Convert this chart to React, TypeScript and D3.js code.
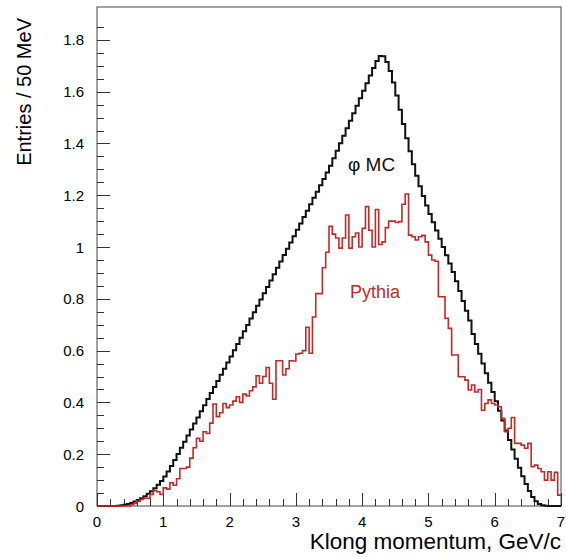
import { useRef, useEffect } from 'react';
import * as d3 from 'd3';

// histogram bins of 50 MeV from 0 to 7 GeV/c
const binWidth = 0.05;

// phi MC (black)
const phiMC = [
  0, 0, 0, 0, 0, 0, 0.001, 0.003, 0.005, 0.008,
  0.012, 0.017, 0.023, 0.030, 0.038, 0.047, 0.057, 0.069, 0.082, 0.097,
  0.114, 0.133, 0.154, 0.178, 0.201, 0.225, 0.248, 0.272, 0.295, 0.319,
  0.342, 0.366, 0.389, 0.413, 0.436, 0.460, 0.483, 0.507, 0.530, 0.554,
  0.577, 0.601, 0.626, 0.650, 0.675, 0.699, 0.724, 0.748, 0.773, 0.797,
  0.822, 0.846, 0.871, 0.895, 0.920, 0.944, 0.969, 0.993, 1.018, 1.042,
  1.067, 1.091, 1.116, 1.140, 1.165, 1.190, 1.214, 1.239, 1.263, 1.288,
  1.314, 1.343, 1.372, 1.401, 1.430, 1.459, 1.488, 1.517, 1.546, 1.575,
  1.604, 1.633, 1.662, 1.691, 1.718, 1.738, 1.737, 1.715, 1.680, 1.635,
  1.585, 1.530, 1.475, 1.420, 1.370, 1.320, 1.275, 1.235, 1.197, 1.160,
  1.128, 1.096, 1.064, 1.032, 1.000, 0.968, 0.936, 0.904, 0.868, 0.830,
  0.792, 0.754, 0.716, 0.664, 0.626, 0.588, 0.550, 0.513, 0.476, 0.440,
  0.405, 0.368, 0.330, 0.292, 0.255, 0.218, 0.182, 0.148, 0.115, 0.085,
  0.058, 0.035, 0.018, 0.008, 0.003, 0.001, 0, 0, 0, 0,
];

// Pythia (red)
const pythia = [
  0, 0, 0, 0, 0, 0, 0, 0, 0, 0,
  0.005, 0.010, 0.018, 0.025, 0.030, 0.030, 0.045, 0.060, 0.055, 0.045,
  0.070, 0.065, 0.090, 0.080, 0.105, 0.145, 0.145, 0.150, 0.185, 0.225,
  0.261, 0.250, 0.287, 0.280, 0.320, 0.394, 0.345, 0.360, 0.396, 0.380,
  0.390, 0.405, 0.422, 0.400, 0.432, 0.425, 0.445, 0.460, 0.503, 0.474,
  0.500, 0.535, 0.474, 0.412, 0.561, 0.561, 0.506, 0.530, 0.561, 0.560,
  0.587, 0.590, 0.600, 0.690, 0.590, 0.730, 0.820, 0.820, 0.920, 0.980,
  1.080, 1.050, 1.035, 0.996, 1.035, 1.124, 0.996, 1.040, 1.054, 1.000,
  1.072, 1.156, 1.065, 1.000, 1.145, 1.010, 1.020, 1.075, 1.100, 1.100,
  1.095, 1.098, 1.165, 1.205, 1.046, 1.040, 1.027, 1.040, 1.045, 1.020,
  0.969, 0.950, 0.945, 0.808, 0.808, 0.725, 0.686, 0.583, 0.583, 0.499,
  0.499, 0.486, 0.448, 0.467, 0.440, 0.450, 0.370, 0.396, 0.410, 0.396,
  0.390, 0.383, 0.339, 0.287, 0.300, 0.342, 0.242, 0.242, 0.235, 0.223,
  0.242, 0.152, 0.158, 0.145, 0.132, 0.100, 0.132, 0.100, 0.130, 0.042,
];

const xTicks = [0, 1, 2, 3, 4, 5, 6, 7];
const xTickLabels = ['0', '1', '2', '3', '4', '5', '6', '7'];
const yTicks = [0, 0.2, 0.4, 0.6, 0.8, 1, 1.2, 1.4, 1.6, 1.8];
const yTickLabels = ['0', '0.2', '0.4', '0.6', '0.8', '1', '1.2', '1.4', '1.6', '1.8'];

const font = '"Liberation Sans", Arial, Helvetica, sans-serif';
const red = '#c62828';

export default function App() {
  const svgRef = useRef<SVGSVGElement>(null);

  useEffect(() => {
    const svg = d3.select(svgRef.current);
    svg.selectAll('*').remove();

    const x = d3.scaleLinear().domain([0, 7]).range([97, 561]);
    const y = d3.scaleLinear().domain([0, 1.927]).range([506, 7]);

    svg.append('rect').attr('width', 566).attr('height', 557).attr('fill', '#fff');

    // frame
    svg.append('rect')
      .attr('x', x(0)).attr('y', y(1.927))
      .attr('width', x(7) - x(0)).attr('height', y(0) - y(1.927))
      .attr('fill', 'none').attr('stroke', '#444').attr('stroke-width', 1);

    // y axis ticks (inward)
    const yMinor = d3.range(0, 1.9, 0.05);
    svg.append('g').selectAll('line')
      .data(yMinor)
      .enter().append('line')
      .attr('x1', x(0)).attr('x2', (d, i) => x(0) + (i % 4 === 0 ? 13 : 7))
      .attr('y1', d => Math.round(y(d)) + 0.5).attr('y2', d => Math.round(y(d)) + 0.5)
      .attr('stroke', '#333').attr('stroke-width', 1);

    svg.append('g').selectAll('text')
      .data(yTicks)
      .enter().append('text')
      .attr('x', 84).attr('y', d => y(d) + 5.5)
      .attr('text-anchor', 'end')
      .style('font-family', font).style('font-size', '15px')
      .text((d, i) => yTickLabels[i]);

    // x axis ticks (inward)
    const xMinor = d3.range(0, 7.01, 0.2);
    svg.append('g').selectAll('line')
      .data(xMinor)
      .enter().append('line')
      .attr('x1', d => Math.round(x(d)) + 0.5).attr('x2', d => Math.round(x(d)) + 0.5)
      .attr('y1', y(0)).attr('y2', (d, i) => y(0) - (i % 5 === 0 ? 13 : 7))
      .attr('stroke', '#333').attr('stroke-width', 1);

    svg.append('g').selectAll('text')
      .data(xTicks)
      .enter().append('text')
      .attr('x', d => x(d)).attr('y', 527)
      .attr('text-anchor', 'middle')
      .style('font-family', font).style('font-size', '15px')
      .text((d, i) => xTickLabels[i]);

    // step histograms
    const stepLine = d3.line<[number, number]>()
      .x(d => x(d[0]))
      .y(d => y(d[1]))
      .curve(d3.curveStepAfter);

    const toPoints = (vals: number[]) => {
      const pts: [number, number][] = vals.map((v, i) => [i * binWidth, v]);
      pts.push([vals.length * binWidth, vals[vals.length - 1]]);
      return pts;
    };

    svg.append('path')
      .attr('d', stepLine(toPoints(phiMC)))
      .attr('fill', 'none').attr('stroke', '#111').attr('stroke-width', 2);

    svg.append('path')
      .attr('d', stepLine(toPoints(pythia)))
      .attr('fill', 'none').attr('stroke', red).attr('stroke-width', 1.6);

    // labels
    svg.append('text')
      .attr('x', 348).attr('y', 171)
      .style('font-family', font).style('font-size', '19px').attr('fill', '#111')
      .text('\u03c6 MC');

    svg.append('text')
      .attr('x', 350).attr('y', 298)
      .style('font-family', font).style('font-size', '18px').attr('fill', red)
      .text('Pythia');

    // axis titles
    svg.append('text')
      .attr('x', 561).attr('y', 549)
      .attr('text-anchor', 'end')
      .style('font-family', font).style('font-size', '22.5px')
      .text('Klong momentum, GeV/c');

    svg.append('text')
      .attr('transform', 'translate(31, 18) rotate(-90)')
      .attr('text-anchor', 'end')
      .style('font-family', font).style('font-size', '20px')
      .text('Entries / 50 MeV');
  }, []);

  return (
    <svg ref={svgRef} width={566} height={557}
      style={{ position: 'absolute', left: 0, top: 0 }} />
  );
}
